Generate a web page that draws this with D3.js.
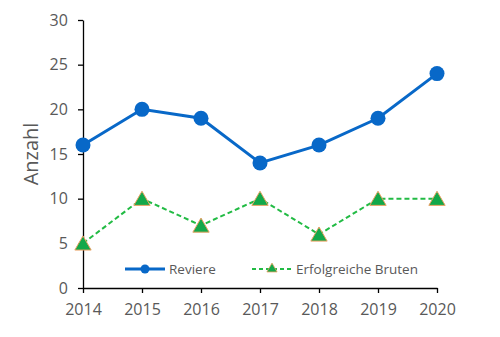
<!DOCTYPE html>
<html>
<head>
<meta charset="utf-8">
<script src="https://cdn.jsdelivr.net/npm/d3@7"></script>
<style>
  body { margin: 0; background: #fff; }
  svg text { font-family: "Open Sans", "Noto Sans", sans-serif; fill: #595959; }
</style>
</head>
<body>
<div id="chart"></div>
<script>
const width = 500;
const height = 337;

// data
const years = [2014, 2015, 2016, 2017, 2018, 2019, 2020];
const reviere = [16, 20, 19, 14, 16, 19, 24];
const bruten = [5, 10, 7, 10, 6, 10, 10];
const yTicks = [0, 5, 10, 15, 20, 25, 30];

const blue = '#0868c8';
const green = '#12a84a';
const greenLine = '#22bb44';
const orange = '#e8a060';

const margin = { top: 20, right: 63, bottom: 49, left: 83 };

const svg = d3.select('#chart')
  .append('svg')
  .attr('width', width)
  .attr('height', height);

const xScale = d3.scaleLinear()
  .domain([2014, 2020])
  .range([margin.left, width - margin.right]);

const yScale = d3.scaleLinear()
  .domain([0, 30])
  .range([height - margin.bottom, margin.top]);

// axes
const xAxis = svg.append('g')
  .attr('transform', `translate(0, ${yScale(0)})`)
  .call(d3.axisBottom(xScale).tickValues(years).tickFormat(d3.format('d')).tickSize(5).tickSizeOuter(0));

const yAxis = svg.append('g')
  .attr('transform', `translate(${margin.left}, 0)`)
  .call(d3.axisLeft(yScale).tickValues(yTicks).tickSize(5).tickSizeOuter(0));

[xAxis, yAxis].forEach(g => {
  g.select('.domain').attr('stroke', '#000').attr('stroke-width', 1.3);
  g.selectAll('.tick line').attr('stroke', '#000').attr('stroke-width', 1.3);
  g.selectAll('.tick text').style('font-size', '16px').attr('fill', '#595959');
});
xAxis.selectAll('.tick text').attr('dy', '1.2em');
yAxis.selectAll('.tick text').attr('dx', '-0.45em');

// axis title
svg.append('text')
  .attr('transform', `translate(38, ${yScale(15)}) rotate(-90)`)
  .attr('text-anchor', 'middle')
  .style('font-size', '20px')
  .text('Anzahl');

const line = d3.line()
  .x((d, i) => xScale(years[i]))
  .y(d => yScale(d));

const tri = d3.symbol().type(d3.symbolTriangle).size(115);

// Erfolgreiche Bruten
svg.append('path')
  .datum(bruten)
  .attr('d', line)
  .attr('fill', 'none')
  .attr('stroke', greenLine)
  .attr('stroke-width', 2)
  .attr('stroke-dasharray', '5,3');

svg.append('g').selectAll('path')
  .data(bruten)
  .join('path')
  .attr('d', tri)
  .attr('transform', (d, i) => `translate(${xScale(years[i])}, ${yScale(d) + 2})`)
  .attr('fill', green)
  .attr('stroke', orange)
  .attr('stroke-width', 1);

// Reviere
svg.append('path')
  .datum(reviere)
  .attr('d', line)
  .attr('fill', 'none')
  .attr('stroke', blue)
  .attr('stroke-width', 3);

svg.append('g').selectAll('circle')
  .data(reviere)
  .join('circle')
  .attr('cx', (d, i) => xScale(years[i]))
  .attr('cy', d => yScale(d))
  .attr('r', 7.5)
  .attr('fill', blue);

// legend
const legendY = 269;
const leg1 = svg.append('g');
leg1.append('line')
  .attr('x1', 125).attr('x2', 165).attr('y1', legendY).attr('y2', legendY)
  .attr('stroke', blue).attr('stroke-width', 3);
leg1.append('circle')
  .attr('cx', 145).attr('cy', legendY).attr('r', 4.5).attr('fill', blue);
leg1.append('text')
  .attr('x', 169).attr('y', legendY).attr('dy', '0.35em')
  .style('font-size', '13.5px')
  .text('Reviere');

const leg2 = svg.append('g');
leg2.append('line')
  .attr('x1', 252).attr('x2', 292).attr('y1', legendY).attr('y2', legendY)
  .attr('stroke', greenLine).attr('stroke-width', 2)
  .attr('stroke-dasharray', '4,3');
leg2.append('path')
  .attr('d', d3.symbol().type(d3.symbolTriangle).size(45))
  .attr('transform', `translate(272, ${legendY})`)
  .attr('fill', green).attr('stroke', orange).attr('stroke-width', 0.8);
leg2.append('text')
  .attr('x', 296).attr('y', legendY).attr('dy', '0.35em')
  .style('font-size', '13.5px')
  .text('Erfolgreiche Bruten');
</script>
</body>
</html>
